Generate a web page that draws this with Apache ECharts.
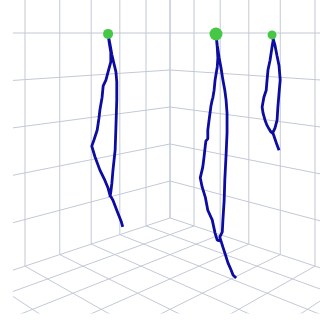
<!DOCTYPE html>
<html>
<head>
<meta charset="utf-8">
<script src="https://cdn.jsdelivr.net/npm/echarts@6/dist/echarts.min.js"></script>
<style>
  html, body { margin: 0; padding: 0; background: #fff; }
  #chart { width: 320px; height: 320px; }
</style>
</head>
<body>
<div id="chart"></div>
<script>
// box, in grid cells
const boxX = 10
const boxY = 10
const boxZ = 10

// tracks as [x, y, z], bottom end -> up one side -> top -> down the other side
const track1 = [
  [2.72, 0.98, 0.56], [2.75, 0.95, 0.69], [2.81, 0.89, 0.88], [2.86, 0.84, 1.04], [2.90, 0.80, 1.17],
  [2.96, 0.75, 1.29], [2.99, 0.71, 1.45], [3.05, 0.65, 1.63], [3.14, 0.56, 1.86], [3.23, 0.47, 2.16],
  [3.29, 0.41, 2.41], [3.25, 0.45, 2.55], [3.19, 0.51, 2.78], [3.16, 0.54, 3.03], [3.14, 0.56, 3.24],
  [3.10, 0.60, 3.53], [3.08, 0.62, 3.79], [3.03, 0.67, 3.92], [2.99, 0.71, 4.11], [2.94, 0.76, 4.34],
  [2.94, 0.76, 4.56], [2.97, 0.73, 4.79], [2.99, 0.71, 4.98], [2.96, 0.75, 4.75], [2.92, 0.78, 4.50],
  [2.88, 0.82, 4.29], [2.85, 0.86, 4.11], [2.83, 0.87, 3.88], [2.83, 0.87, 3.47], [2.85, 0.86, 2.85],
  [2.86, 0.84, 2.32], [2.90, 0.80, 1.86], [2.92, 0.78, 1.56], [2.94, 0.76, 1.36], [2.96, 0.75, 1.24]
]
const track2 = [
  [2.21, 4.31, 0.16], [2.26, 4.26, 0.22], [2.29, 4.23, 0.32], [2.34, 4.18, 0.46], [2.37, 4.15, 0.58],
  [2.42, 4.10, 0.77], [2.45, 4.07, 0.89], [2.51, 4.01, 0.91], [2.55, 3.98, 1.05], [2.59, 3.93, 1.31],
  [2.66, 3.86, 1.50], [2.70, 3.82, 1.76], [2.75, 3.77, 1.96], [2.78, 3.74, 2.14], [2.74, 3.78, 2.35],
  [2.72, 3.80, 2.55], [2.70, 3.82, 2.77], [2.69, 3.83, 2.87], [2.66, 3.86, 2.91], [2.66, 3.86, 3.08],
  [2.64, 3.88, 3.28], [2.63, 3.90, 3.42], [2.61, 3.91, 3.56], [2.59, 3.93, 3.68], [2.58, 3.94, 3.72],
  [2.56, 3.96, 3.87], [2.55, 3.98, 4.07], [2.51, 4.01, 4.33], [2.50, 4.02, 4.51], [2.51, 4.01, 4.72],
  [2.53, 3.99, 4.98], [2.51, 4.01, 4.76], [2.48, 4.04, 4.51], [2.45, 4.07, 4.31], [2.42, 4.10, 4.07],
  [2.39, 4.13, 3.87], [2.37, 4.15, 3.68], [2.36, 4.17, 3.42], [2.36, 4.17, 3.03], [2.37, 4.15, 2.59],
  [2.39, 4.13, 2.10], [2.40, 4.12, 1.70], [2.42, 4.10, 1.31], [2.43, 4.09, 1.07], [2.47, 4.05, 0.97],
  [2.45, 4.07, 0.89]
]
const track3 = [
  [0.68, 4.42, 2.50], [0.72, 4.39, 2.61], [0.75, 4.35, 2.74], [0.78, 4.32, 2.85], [0.82, 4.28, 2.89],
  [0.85, 4.25, 2.95], [0.89, 4.21, 3.04], [0.92, 4.18, 3.14], [0.96, 4.15, 3.29], [0.97, 4.13, 3.42],
  [0.94, 4.16, 3.63], [0.90, 4.20, 3.78], [0.89, 4.21, 3.93], [0.87, 4.23, 4.21], [0.84, 4.27, 4.42],
  [0.80, 4.30, 4.70], [0.78, 4.32, 4.85], [0.80, 4.30, 4.96], [0.75, 4.35, 4.74], [0.72, 4.39, 4.51],
  [0.68, 4.42, 4.30], [0.66, 4.44, 4.00], [0.68, 4.42, 3.72], [0.70, 4.40, 3.42], [0.72, 4.39, 3.14],
  [0.75, 4.35, 2.97], [0.78, 4.32, 2.89], [0.82, 4.28, 2.89]
]
const tracks = [track1, track2, track3]
const dotSizes = [10, 13, 9]

// camera: looks level, box corner straight ahead
const camDist = 17.11
const camYaw = Math.PI / 4
const eyeZ = 5
const zScale = 1.137

function project(p) {
  const c = Math.cos(camYaw), s = Math.sin(camYaw)
  const side = c * p[1] - s * p[0]
  const depth = camDist - s * p[0] - c * p[1]
  return [side / depth, (p[2] - eyeZ) * zScale / depth]
}

const gridColor = '#c2c9d6'
const series = []

function addSegment(a, b) {
  series.push({
    type: 'line',
    data: [project(a), project(b)],
    symbol: 'none',
    silent: true,
    lineStyle: { color: gridColor, width: 1 },
    z: 1
  })
}

for (let i = 0; i <= boxX; i++) {
  addSegment([i, 0, 0], [i, 0, boxZ])      // left wall verticals
  addSegment([i, 0, 0], [i, boxY, 0])      // floor
}
for (let j = 0; j <= boxY; j++) {
  addSegment([0, j, 0], [0, j, boxZ])      // right wall verticals
  addSegment([0, j, 0], [boxX, j, 0])      // floor
}
for (let k = 1; k <= boxZ; k++) {
  addSegment([0, 0, k], [boxX, 0, k])
  addSegment([0, 0, k], [0, boxY, k])
}

tracks.forEach((t) => {
  series.push({
    type: 'line',
    data: t.map(project),
    symbol: 'none',
    lineStyle: { color: '#0c0ca2', width: 2.8 },
    z: 3
  })
})

series.push({
  type: 'scatter',
  data: tracks.map((t) => {
    const top = t.reduce((m, p) => (p[2] > m[2] ? p : m))
    return project(top)
  }),
  symbolSize: (v, params) => dotSizes[params.dataIndex],
  itemStyle: { color: '#46c846', opacity: 1 },
  z: 5
})

const chart = echarts.init(document.getElementById('chart'))
chart.setOption({
  animation: false,
  grid: { left: 14, right: 0, top: 0, bottom: 7 },
  xAxis: { type: 'value', min: -0.2802, max: 0.2694, show: false },
  yAxis: { type: 'value', min: -0.503, max: 0.0593, show: false },
  series: series
})
</script>
</body>
</html>
